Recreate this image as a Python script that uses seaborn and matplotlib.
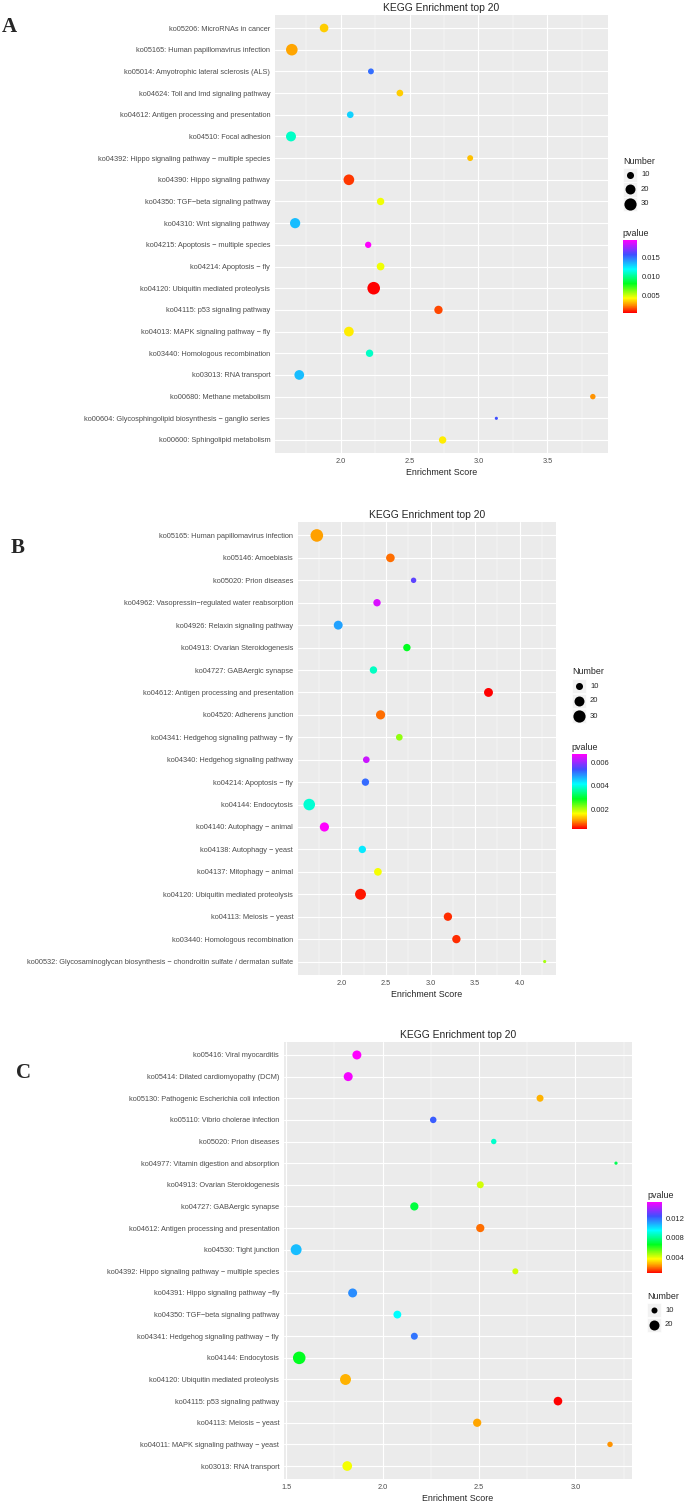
import numpy as np
import pandas as pd
import matplotlib
matplotlib.use("Agg")
import matplotlib.pyplot as plt
import seaborn as sns
from matplotlib.colors import LinearSegmentedColormap, Normalize
from matplotlib.cm import ScalarMappable
from matplotlib.patches import Rectangle

# --- Panel A data ---
a_terms = [
    "ko05206: MicroRNAs in cancer",
    "ko05165: Human papillomavirus infection",
    "ko05014: Amyotrophic lateral sclerosis (ALS)",
    "ko04624: Toll and Imd signaling pathway",
    "ko04612: Antigen processing and presentation",
    "ko04510: Focal adhesion",
    "ko04392: Hippo signaling pathway - multiple species",
    "ko04390: Hippo signaling pathway",
    "ko04350: TGF-beta signaling pathway",
    "ko04310: Wnt signaling pathway",
    "ko04215: Apoptosis - multiple species",
    "ko04214: Apoptosis - fly",
    "ko04120: Ubiquitin mediated proteolysis",
    "ko04115: p53 signaling pathway",
    "ko04013: MAPK signaling pathway - fly",
    "ko03440: Homologous recombination",
    "ko03013: RNA transport",
    "ko00680: Methane metabolism",
    "ko00604: Glycosphingolipid biosynthesis - ganglio series",
    "ko00600: Sphingolipid metabolism",
]
a_score = [1.88, 1.646, 2.22, 2.43, 2.07, 1.64, 2.94, 2.06, 2.29, 1.67,
           2.20, 2.29, 2.24, 2.71, 2.06, 2.21, 1.70, 3.83, 3.13, 2.74]
a_number = [15, 27, 7, 9, 9, 20, 7, 23, 11, 21, 8, 12, 32, 14, 19, 11, 19, 6, 2, 11]
a_pvalue = [0.0036, 0.0029, 0.0150, 0.0036, 0.0129, 0.0110, 0.0034, 0.0014, 0.0046, 0.0133,
            0.0195, 0.0046, 0.0006, 0.0016, 0.0041, 0.0110, 0.0133, 0.0026, 0.0157, 0.0041]

# --- Panel B data ---
b_terms = [
    "ko05165: Human papillomavirus infection",
    "ko05146: Amoebiasis",
    "ko05020: Prion diseases",
    "ko04962: Vasopressin-regulated water reabsorption",
    "ko04926: Relaxin signaling pathway",
    "ko04913: Ovarian Steroidogenesis",
    "ko04727: GABAergic synapse",
    "ko04612: Antigen processing and presentation",
    "ko04520: Adherens junction",
    "ko04341: Hedgehog signaling pathway - fly",
    "ko04340: Hedgehog signaling pathway",
    "ko04214: Apoptosis - fly",
    "ko04144: Endocytosis",
    "ko04140: Autophagy - animal",
    "ko04138: Autophagy - yeast",
    "ko04137: Mitophagy - animal",
    "ko04120: Ubiquitin mediated proteolysis",
    "ko04113: Meiosis - yeast",
    "ko03440: Homologous recombination",
    "ko00532: Glycosaminoglycan biosynthesis - chondroitin sulfate / dermatan sulfate",
]
b_score = [1.725, 2.55, 2.81, 2.40, 1.965, 2.735, 2.36, 3.65, 2.44, 2.65,
           2.28, 2.27, 1.64, 1.81, 2.235, 2.41, 2.215, 3.195, 3.29, 4.28]
b_number = [32, 15, 6, 11, 16, 11, 11, 16, 17, 9, 9, 11, 27, 17, 11, 12, 24, 14, 14, 2]
b_pvalue = [0.00115, 0.0009, 0.0056, 0.0064, 0.0048, 0.0029, 0.0038, 0.0004, 0.0009, 0.0022,
            0.0063, 0.0052, 0.0039, 0.00665, 0.0043, 0.0017, 0.0005, 0.0006, 0.0006, 0.0021]

# --- Panel C data ---
c_terms = [
    "ko05416: Viral myocarditis",
    "ko05414: Dilated cardiomyopathy (DCM)",
    "ko05130: Pathogenic Escherichia coli infection",
    "ko05110: Vibrio cholerae infection",
    "ko05020: Prion diseases",
    "ko04977: Vitamin digestion and absorption",
    "ko04913: Ovarian Steroidogenesis",
    "ko04727: GABAergic synapse",
    "ko04612: Antigen processing and presentation",
    "ko04530: Tight junction",
    "ko04392: Hippo signaling pathway - multiple species",
    "ko04391: Hippo signaling pathway -fly",
    "ko04350: TGF-beta signaling pathway",
    "ko04341: Hedgehog signaling pathway - fly",
    "ko04144: Endocytosis",
    "ko04120: Ubiquitin mediated proteolysis",
    "ko04115: p53 signaling pathway",
    "ko04113: Meiosis - yeast",
    "ko04011: MAPK signaling pathway - yeast",
    "ko03013: RNA transport",
]
c_score = [1.867, 1.822, 2.817, 2.263, 2.577, 3.211, 2.507, 2.165, 2.507, 1.552,
           2.689, 1.845, 2.077, 2.165, 1.568, 1.808, 2.910, 2.491, 3.180, 1.817]
c_number = [17, 17, 12, 11, 9, 6, 12, 15, 15, 23, 10, 17, 14, 12, 29, 23, 16, 15, 9, 19]
c_pvalue = [0.0154, 0.0152, 0.0027, 0.0122, 0.0088, 0.0073, 0.0042, 0.0070, 0.0019, 0.0106,
            0.0042, 0.0114, 0.0095, 0.0118, 0.0066, 0.0027, 0.0007, 0.0025, 0.0023, 0.0038]

sns.set_theme(style="darkgrid", rc={"axes.facecolor": "#EBEBEB", "grid.color": "white"})
plt.rcParams["font.family"] = ["Liberation Sans", "DejaVu Sans"]

# red -> orange -> yellow -> green -> cyan -> blue -> magenta
rainbow = LinearSegmentedColormap.from_list("pv", [
    (0.0, "#FF0000"), (0.1, "#FF8C00"), (0.2, "#FFFF00"), (0.4, "#00FF20"),
    (0.6, "#00FFFF"), (0.8, "#3F4FFF"), (1.0, "#FF00FF"),
])

W, H = 685, 1504
fig = plt.figure(figsize=(W / 100, H / 100), dpi=100)


def px_rect(l, t, r, b):
    return [l / W, 1 - b / H, (r - l) / W, (b - t) / H]


def panel(terms, score, number, pvalue, box, xlim, xticks, minor, size_norm, sizes):
    ax = fig.add_axes(px_rect(*box))
    df = pd.DataFrame({
        "term": [t.replace("-", "\u2212") for t in terms],
        "score": score, "Number": number, "pvalue": pvalue,
    })
    sns.scatterplot(data=df, x="score", y="term", hue="pvalue", size="Number",
                    palette=rainbow, hue_norm=(min(pvalue), max(pvalue)),
                    sizes=sizes, size_norm=size_norm, linewidth=0,
                    legend=False, ax=ax, zorder=3)
    ax.set_xlim(*xlim)
    ax.set_ylim(len(terms) - 0.4, -0.6)
    ax.set_xticks(xticks)
    ax.set_xticks(minor, minor=True)
    ax.grid(which="major", color="white", linewidth=0.8)
    ax.grid(which="minor", axis="x", color="white", linewidth=0.35)
    for sp in ax.spines.values():
        sp.set_visible(False)
    ax.tick_params(which="major", length=2, width=0.6, color="#333333",
                   labelsize=5.3, labelcolor="#4D4D4D", pad=1.5)
    ax.tick_params(which="minor", length=0)
    ax.set_ylabel("")
    ax.set_xlabel("Enrichment Score", fontsize=6.4, labelpad=2)
    ax.set_title("KEGG Enrichment top 20", fontsize=7.4, pad=3)
    return ax


def size_legend(lay, x, y_title, ys, values, size_norm, sizes):
    lay.text(x, y_title, "Number", fontsize=6.4, va="center", ha="left")
    for yy, v in zip(ys, values):
        lay.add_patch(Rectangle((x, yy - 7.2), 14.5, 14.5, facecolor="#F2F2F2",
                                edgecolor="white", linewidth=0.5))
        s = sizes[0] + (v - size_norm[0]) / (size_norm[1] - size_norm[0]) * (sizes[1] - sizes[0])
        lay.scatter([x + 7.25], [yy], s=s, color="black", linewidth=0)
        lay.text(x + 18, yy, str(v), fontsize=5.5, va="center", ha="left")


def color_bar(lay, box, vmin, vmax, ticks, title_y):
    cax = fig.add_axes(px_rect(*box))
    cb = fig.colorbar(ScalarMappable(norm=Normalize(vmin, vmax), cmap=rainbow), cax=cax)
    cb.outline.set_visible(False)
    cb.set_ticks(ticks)
    cb.set_ticklabels([f"{t:.3f}" for t in ticks])
    cax.tick_params(left=True, right=True, labelleft=False, labelright=True,
                    direction="in", color="white", length=3, width=0.6,
                    labelsize=5.5, pad=3)
    lay.text(box[0], title_y, "pvalue", fontsize=6.4, va="center", ha="left")


ab_norm, ab_sizes = (0, 35), (0, 90)
c_norm, c_sizes = (6, 30), (5.4, 85)

panel(a_terms, a_score, a_number, a_pvalue, (275, 15, 608, 453), (1.524, 3.94),
      [2.0, 2.5, 3.0, 3.5], [1.75, 2.25, 2.75, 3.25, 3.75], ab_norm, ab_sizes)
panel(b_terms, b_score, b_number, b_pvalue, (298, 522, 556, 975), (1.514, 4.407),
      [2.0, 2.5, 3.0, 3.5, 4.0], [1.75, 2.25, 2.75, 3.25, 3.75, 4.25], ab_norm, ab_sizes)
panel(c_terms, c_score, c_number, c_pvalue, (284, 1042, 632, 1479), (1.489, 3.294),
      [1.5, 2.0, 2.5, 3.0], [1.75, 2.25, 2.75, 3.25], c_norm, c_sizes)

lay = fig.add_axes([0, 0, 1, 1])
lay.set_xlim(0, W)
lay.set_ylim(H, 0)
lay.axis("off")

# legends
size_legend(lay, 623, 161, [174.7, 189.3, 203.7], [10, 20, 30], ab_norm, ab_sizes)
color_bar(lay, (622.7, 240, 637.3, 312.7), min(a_pvalue), max(a_pvalue), [0.005, 0.010, 0.015], 234)
size_legend(lay, 572, 672, [686, 701, 716], [10, 20, 30], ab_norm, ab_sizes)
color_bar(lay, (571.7, 754.3, 586.7, 828.7), min(b_pvalue), max(b_pvalue), [0.002, 0.004, 0.006], 747)
color_bar(lay, (647.3, 1201.7, 661.7, 1273.3), min(c_pvalue), max(c_pvalue), [0.004, 0.008, 0.012], 1195)
size_legend(lay, 647, 1296.7, [1310, 1325], [10, 20], c_norm, c_sizes)

# panel letters
for letter, x, y in [("A", 9.5, 27), ("B", 18, 548), ("C", 24, 1073)]:
    lay.text(x, y, letter, fontsize=15, fontweight="bold", family="Liberation Serif",
             ha="center", va="center")

fig.savefig("out.png", dpi=100, facecolor="white")
